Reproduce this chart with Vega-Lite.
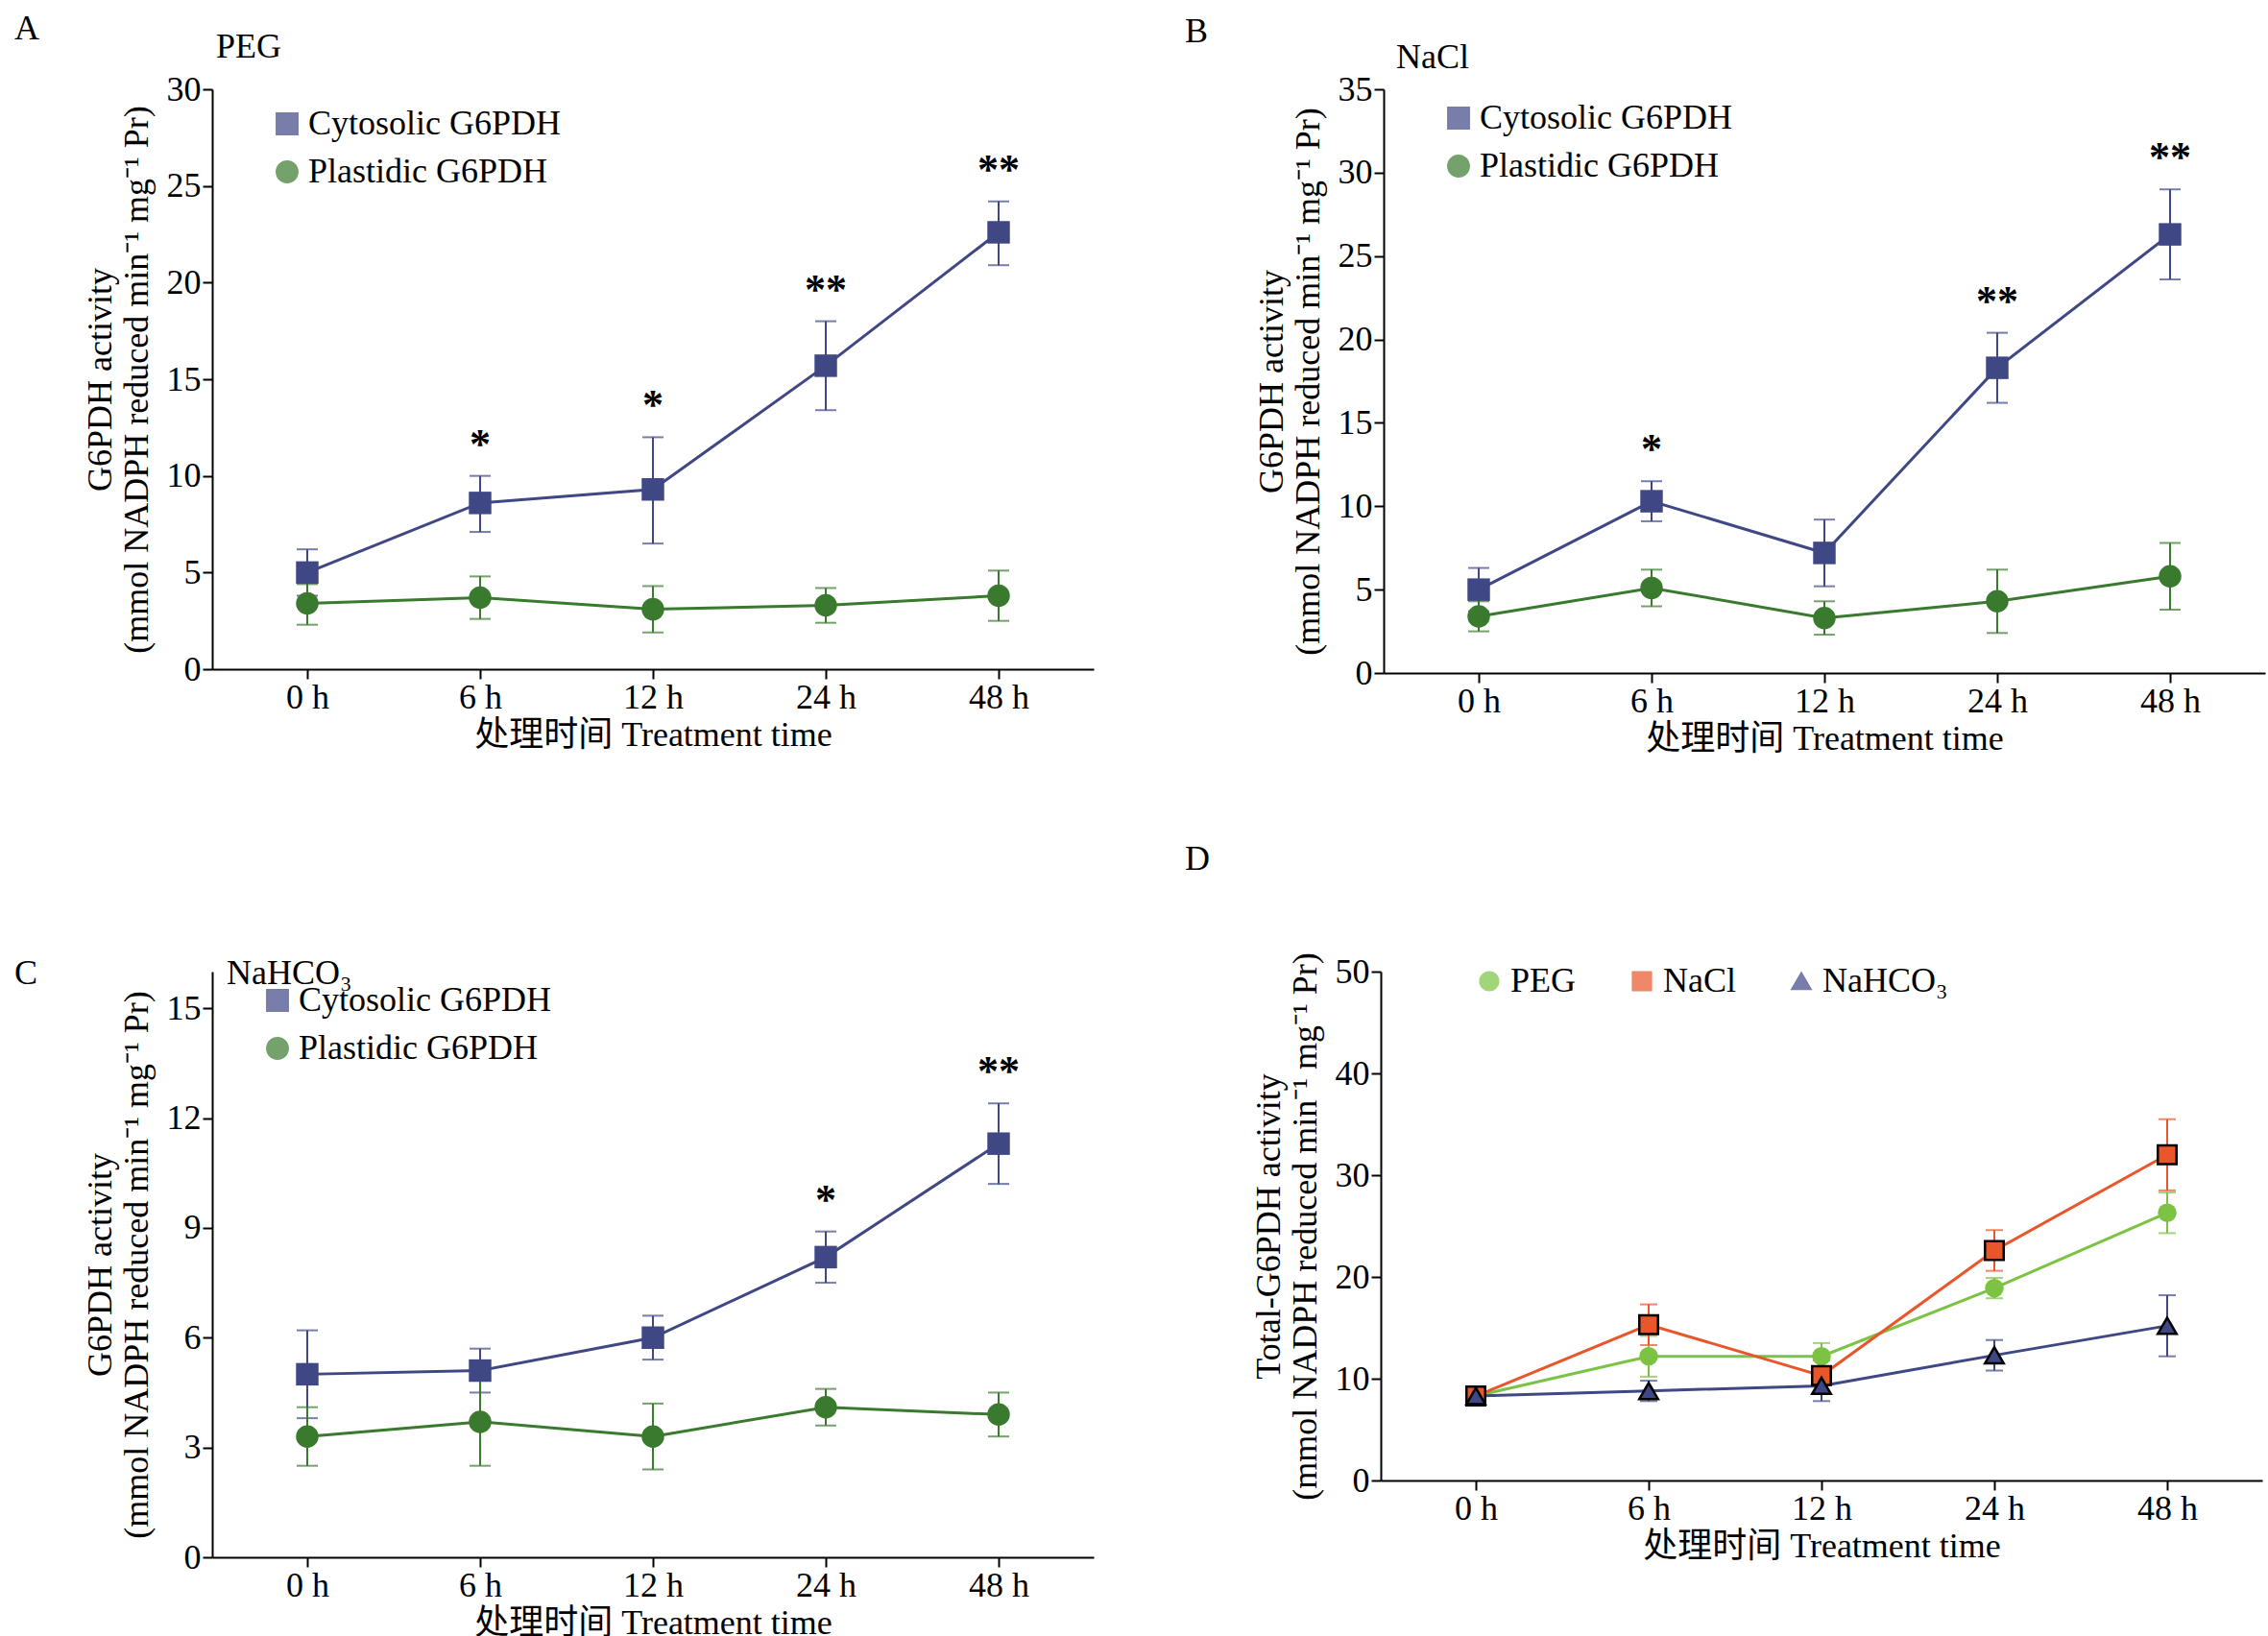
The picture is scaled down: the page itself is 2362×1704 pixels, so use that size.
{
"$schema":"https://vega.github.io/schema/vega-lite/v6.json",
"background":"white",
"padding":{"left":15,"top":12,"right":10,"bottom":5},
"config":{"font":"Liberation Serif","view":{"stroke":null},
 "axis":{"labelFont":"Liberation Serif, Noto Sans CJK SC","titleFont":"Liberation Serif, Noto Sans CJK SC","labelFontSize":36,"titleFontSize":36,"titleFontWeight":"normal","labelColor":"black","titleColor":"black","domainColor":"black","tickColor":"black","tickSize":10,"domainWidth":2,"tickWidth":2,"grid":false,"labelAngle":0},
 "legend":{"labelFont":"Liberation Serif","labelFontSize":36,"labelColor":"black","labelLimit":600}},
"datasets":{"d":[
{"panel":"A","series":"Cytosolic G6PDH","time":"0 h","mean":5.0,"lo":3.8,"hi":6.2,"star":""},
{"panel":"A","series":"Cytosolic G6PDH","time":"6 h","mean":8.6,"lo":7.1,"hi":10.0,"star":"*"},
{"panel":"A","series":"Cytosolic G6PDH","time":"12 h","mean":9.3,"lo":6.5,"hi":12.0,"star":"*"},
{"panel":"A","series":"Cytosolic G6PDH","time":"24 h","mean":15.7,"lo":13.4,"hi":18.0,"star":"**"},
{"panel":"A","series":"Cytosolic G6PDH","time":"48 h","mean":22.6,"lo":20.9,"hi":24.2,"star":"**"},
{"panel":"A","series":"Plastidic G6PDH","time":"0 h","mean":3.4,"lo":2.3,"hi":4.4,"star":""},
{"panel":"A","series":"Plastidic G6PDH","time":"6 h","mean":3.7,"lo":2.6,"hi":4.8,"star":""},
{"panel":"A","series":"Plastidic G6PDH","time":"12 h","mean":3.1,"lo":1.9,"hi":4.3,"star":""},
{"panel":"A","series":"Plastidic G6PDH","time":"24 h","mean":3.3,"lo":2.4,"hi":4.2,"star":""},
{"panel":"A","series":"Plastidic G6PDH","time":"48 h","mean":3.8,"lo":2.5,"hi":5.1,"star":""},
{"panel":"B","series":"Cytosolic G6PDH","time":"0 h","mean":5.0,"lo":3.7,"hi":6.3,"star":""},
{"panel":"B","series":"Cytosolic G6PDH","time":"6 h","mean":10.3,"lo":9.1,"hi":11.5,"star":"*"},
{"panel":"B","series":"Cytosolic G6PDH","time":"12 h","mean":7.2,"lo":5.2,"hi":9.2,"star":""},
{"panel":"B","series":"Cytosolic G6PDH","time":"24 h","mean":18.3,"lo":16.2,"hi":20.4,"star":"**"},
{"panel":"B","series":"Cytosolic G6PDH","time":"48 h","mean":26.3,"lo":23.6,"hi":29.0,"star":"**"},
{"panel":"B","series":"Plastidic G6PDH","time":"0 h","mean":3.4,"lo":2.5,"hi":4.3,"star":""},
{"panel":"B","series":"Plastidic G6PDH","time":"6 h","mean":5.1,"lo":4.0,"hi":6.2,"star":""},
{"panel":"B","series":"Plastidic G6PDH","time":"12 h","mean":3.3,"lo":2.3,"hi":4.3,"star":""},
{"panel":"B","series":"Plastidic G6PDH","time":"24 h","mean":4.3,"lo":2.4,"hi":6.2,"star":""},
{"panel":"B","series":"Plastidic G6PDH","time":"48 h","mean":5.8,"lo":3.8,"hi":7.8,"star":""},
{"panel":"C","series":"Cytosolic G6PDH","time":"0 h","mean":5.0,"lo":3.8,"hi":6.2,"star":""},
{"panel":"C","series":"Cytosolic G6PDH","time":"6 h","mean":5.1,"lo":4.5,"hi":5.7,"star":""},
{"panel":"C","series":"Cytosolic G6PDH","time":"12 h","mean":6.0,"lo":5.4,"hi":6.6,"star":""},
{"panel":"C","series":"Cytosolic G6PDH","time":"24 h","mean":8.2,"lo":7.5,"hi":8.9,"star":"*"},
{"panel":"C","series":"Cytosolic G6PDH","time":"48 h","mean":11.3,"lo":10.2,"hi":12.4,"star":"**"},
{"panel":"C","series":"Plastidic G6PDH","time":"0 h","mean":3.3,"lo":2.5,"hi":4.1,"star":""},
{"panel":"C","series":"Plastidic G6PDH","time":"6 h","mean":3.7,"lo":2.5,"hi":4.9,"star":""},
{"panel":"C","series":"Plastidic G6PDH","time":"12 h","mean":3.3,"lo":2.4,"hi":4.2,"star":""},
{"panel":"C","series":"Plastidic G6PDH","time":"24 h","mean":4.1,"lo":3.6,"hi":4.6,"star":""},
{"panel":"C","series":"Plastidic G6PDH","time":"48 h","mean":3.9,"lo":3.3,"hi":4.5,"star":""},
{"panel":"D","series":"PEG","time":"0 h","mean":8.3,"lo":7.8,"hi":8.8,"star":""},
{"panel":"D","series":"PEG","time":"6 h","mean":12.2,"lo":10.2,"hi":14.2,"star":""},
{"panel":"D","series":"PEG","time":"12 h","mean":12.2,"lo":10.9,"hi":13.5,"star":""},
{"panel":"D","series":"PEG","time":"24 h","mean":18.9,"lo":17.9,"hi":19.9,"star":""},
{"panel":"D","series":"PEG","time":"48 h","mean":26.3,"lo":24.3,"hi":28.3,"star":""},
{"panel":"D","series":"NaCl","time":"0 h","mean":8.3,"lo":7.8,"hi":8.8,"star":""},
{"panel":"D","series":"NaCl","time":"6 h","mean":15.3,"lo":13.3,"hi":17.3,"star":""},
{"panel":"D","series":"NaCl","time":"12 h","mean":10.3,"lo":8.8,"hi":11.8,"star":""},
{"panel":"D","series":"NaCl","time":"24 h","mean":22.6,"lo":20.6,"hi":24.6,"star":""},
{"panel":"D","series":"NaCl","time":"48 h","mean":32.0,"lo":28.5,"hi":35.5,"star":""},
{"panel":"D","series":"NaHCO₃","time":"0 h","mean":8.3,"lo":7.8,"hi":8.8,"star":""},
{"panel":"D","series":"NaHCO₃","time":"6 h","mean":8.8,"lo":7.8,"hi":9.8,"star":""},
{"panel":"D","series":"NaHCO₃","time":"12 h","mean":9.3,"lo":7.8,"hi":10.8,"star":""},
{"panel":"D","series":"NaHCO₃","time":"24 h","mean":12.3,"lo":10.8,"hi":13.8,"star":""},
{"panel":"D","series":"NaHCO₃","time":"48 h","mean":15.2,"lo":12.2,"hi":18.2,"star":""}
]},
"vconcat":[
{"hconcat":[
{"width":918,"height":604,
 "data":{"name":"d"},
 "encoding":{"x":{"field":"time","type":"ordinal","sort":["0 h","6 h","12 h","24 h","48 h"],"scale":{"type":"point","padding":0.55},"axis":{"title":"处理时间 Treatment time","titlePadding":4}}},
 "layer":[
  {"transform":[{"filter":"datum.panel=='A'"}],"mark":{"type":"errorbar","ticks":{"size":22,"thickness":2},"thickness":2},"encoding":{"y":{"field":"lo","type":"quantitative","title":["G6PDH activity","(mmol NADPH reduced min⁻¹ mg⁻¹ Pr)"],"scale":{"domain":[0,30]},"axis":{"values":[0,5,10,15,20,25,30],"titlePadding":12}},"y2":{"field":"hi"},"color":{"field":"series","title":null,"scale":{"domain":["Cytosolic G6PDH","Plastidic G6PDH"],"range":["#3F4785","#3A7A2E"]},"legend":{"orient":"none","legendX":60,"legendY":18,"symbolSize":500,"rowPadding":14}}}},
  {"transform":[{"filter":"datum.panel=='A'"}],"mark":{"type":"line","strokeWidth":3},"encoding":{"y":{"field":"mean","type":"quantitative","title":["G6PDH activity","(mmol NADPH reduced min⁻¹ mg⁻¹ Pr)"]},"color":{"field":"series"}}},
  {"transform":[{"filter":"datum.panel=='A'"}],"mark":{"type":"point","filled":true,"opacity":1,"size":550},"encoding":{"y":{"field":"mean","type":"quantitative","title":["G6PDH activity","(mmol NADPH reduced min⁻¹ mg⁻¹ Pr)"]},"color":{"field":"series"},"shape":{"field":"series","title":null,"scale":{"domain":["Cytosolic G6PDH","Plastidic G6PDH"],"range":["square","circle"]}}}},
  {"transform":[{"filter":"datum.panel=='A'"}],"mark":{"type":"text","fontSize":44,"dy":-10,"baseline":"bottom","font":"Liberation Serif","fontWeight":"bold"},"encoding":{"y":{"field":"hi","type":"quantitative","title":["G6PDH activity","(mmol NADPH reduced min⁻¹ mg⁻¹ Pr)"]},"text":{"field":"star"}}},
  {"data":{"values":[{"l":"A"}]},"mark":{"type":"text","fontSize":36,"dx":-305,"dy":-63,"align":"left","baseline":"middle","font":"Liberation Serif"},"encoding":{"x":{"datum":"0 h"},"y":{"datum":30},"text":{"field":"l"}}},
  {"data":{"values":[{"l":"PEG"}]},"mark":{"type":"text","fontSize":36,"dx":-95,"dy":-44,"align":"left","baseline":"middle","font":"Liberation Serif"},"encoding":{"x":{"datum":"0 h"},"y":{"datum":30},"text":{"field":"l"}}}
 ]},
{"width":918,"height":608,
 "data":{"name":"d"},
 "encoding":{"x":{"field":"time","type":"ordinal","sort":["0 h","6 h","12 h","24 h","48 h"],"scale":{"type":"point","padding":0.55},"axis":{"title":"处理时间 Treatment time","titlePadding":4}}},
 "layer":[
  {"transform":[{"filter":"datum.panel=='B'"}],"mark":{"type":"errorbar","ticks":{"size":22,"thickness":2},"thickness":2},"encoding":{"y":{"field":"lo","type":"quantitative","title":["G6PDH activity","(mmol NADPH reduced min⁻¹ mg⁻¹ Pr)"],"scale":{"domain":[0,35]},"axis":{"values":[0,5,10,15,20,25,30,35],"titlePadding":12}},"y2":{"field":"hi"},"color":{"field":"series","title":null,"scale":{"domain":["Cytosolic G6PDH","Plastidic G6PDH"],"range":["#3F4785","#3A7A2E"]},"legend":{"orient":"none","legendX":60,"legendY":12,"symbolSize":500,"rowPadding":14}}}},
  {"transform":[{"filter":"datum.panel=='B'"}],"mark":{"type":"line","strokeWidth":3},"encoding":{"y":{"field":"mean","type":"quantitative","title":["G6PDH activity","(mmol NADPH reduced min⁻¹ mg⁻¹ Pr)"]},"color":{"field":"series"}}},
  {"transform":[{"filter":"datum.panel=='B'"}],"mark":{"type":"point","filled":true,"opacity":1,"size":550},"encoding":{"y":{"field":"mean","type":"quantitative","title":["G6PDH activity","(mmol NADPH reduced min⁻¹ mg⁻¹ Pr)"]},"color":{"field":"series"},"shape":{"field":"series","title":null,"scale":{"domain":["Cytosolic G6PDH","Plastidic G6PDH"],"range":["square","circle"]}}}},
  {"transform":[{"filter":"datum.panel=='B'"}],"mark":{"type":"text","fontSize":44,"dy":-10,"baseline":"bottom","font":"Liberation Serif","fontWeight":"bold"},"encoding":{"y":{"field":"hi","type":"quantitative","title":["G6PDH activity","(mmol NADPH reduced min⁻¹ mg⁻¹ Pr)"]},"text":{"field":"star"}}},
  {"data":{"values":[{"l":"B"}]},"mark":{"type":"text","fontSize":36,"dx":-306,"dy":-60,"align":"left","baseline":"middle","font":"Liberation Serif"},"encoding":{"x":{"datum":"0 h"},"y":{"datum":35},"text":{"field":"l"}}},
  {"data":{"values":[{"l":"NaCl"}]},"mark":{"type":"text","fontSize":36,"dx":-86,"dy":-33,"align":"left","baseline":"middle","font":"Liberation Serif"},"encoding":{"x":{"datum":"0 h"},"y":{"datum":35},"text":{"field":"l"}}}
 ]}
],"spacing":95,"resolve":{"scale":{"color":"independent","shape":"independent","y":"independent"}}},
{"hconcat":[
{"width":918,"height":610,
 "data":{"name":"d"},
 "encoding":{"x":{"field":"time","type":"ordinal","sort":["0 h","6 h","12 h","24 h","48 h"],"scale":{"type":"point","padding":0.55},"axis":{"title":"处理时间 Treatment time","titlePadding":4}}},
 "layer":[
  {"transform":[{"filter":"datum.panel=='C'"}],"mark":{"type":"errorbar","ticks":{"size":22,"thickness":2},"thickness":2},"encoding":{"y":{"field":"lo","type":"quantitative","title":["G6PDH activity","(mmol NADPH reduced min⁻¹ mg⁻¹ Pr)"],"scale":{"domain":[0,15]},"axis":{"values":[0,3,6,9,12,15],"titlePadding":12}},"y2":{"field":"hi"},"color":{"field":"series","title":null,"scale":{"domain":["Cytosolic G6PDH","Plastidic G6PDH"],"range":["#3F4785","#3A7A2E"]},"legend":{"orient":"none","legendX":50,"legendY":12,"symbolSize":500,"rowPadding":14}}}},
  {"transform":[{"filter":"datum.panel=='C'"}],"mark":{"type":"line","strokeWidth":3},"encoding":{"y":{"field":"mean","type":"quantitative","title":["G6PDH activity","(mmol NADPH reduced min⁻¹ mg⁻¹ Pr)"]},"color":{"field":"series"}}},
  {"transform":[{"filter":"datum.panel=='C'"}],"mark":{"type":"point","filled":true,"opacity":1,"size":550},"encoding":{"y":{"field":"mean","type":"quantitative","title":["G6PDH activity","(mmol NADPH reduced min⁻¹ mg⁻¹ Pr)"]},"color":{"field":"series"},"shape":{"field":"series","title":null,"scale":{"domain":["Cytosolic G6PDH","Plastidic G6PDH"],"range":["square","circle"]}}}},
  {"transform":[{"filter":"datum.panel=='C'"}],"mark":{"type":"text","fontSize":44,"dy":-10,"baseline":"bottom","font":"Liberation Serif","fontWeight":"bold"},"encoding":{"y":{"field":"hi","type":"quantitative","title":["G6PDH activity","(mmol NADPH reduced min⁻¹ mg⁻¹ Pr)"]},"text":{"field":"star"}}},
  {"data":{"values":[{"l":"C"}]},"mark":{"type":"text","fontSize":36,"dx":-305,"dy":-36,"align":"left","baseline":"middle","font":"Liberation Serif"},"encoding":{"x":{"datum":"0 h"},"y":{"datum":15},"text":{"field":"l"}}},
  {"data":{"values":[{"l":"NaHCO₃"}]},"mark":{"type":"text","fontSize":36,"dx":-84,"dy":-36,"align":"left","baseline":"middle","font":"Liberation Serif"},"encoding":{"x":{"datum":"0 h"},"y":{"datum":15},"text":{"field":"l"}}}
 ]},
{"width":918,"height":530,
 "data":{"name":"d"},
 "encoding":{"x":{"field":"time","type":"ordinal","sort":["0 h","6 h","12 h","24 h","48 h"],"scale":{"type":"point","padding":0.55},"axis":{"title":"处理时间 Treatment time","titlePadding":4}}},
 "layer":[
  {"transform":[{"filter":"datum.panel=='D'"}],"mark":{"type":"errorbar","ticks":{"size":18,"thickness":2},"thickness":2},"encoding":{"y":{"field":"lo","type":"quantitative","title":["Total-G6PDH activity","(mmol NADPH reduced min⁻¹ mg⁻¹ Pr)"],"scale":{"domain":[0,50]},"axis":{"values":[0,10,20,30,40,50],"titlePadding":12}},"y2":{"field":"hi"},"color":{"field":"series","title":null,"scale":{"domain":["PEG","NaCl","NaHCO₃"],"range":["#7CC243","#E8562A","#3F4785"]},"legend":{"orient":"none","direction":"horizontal","legendX":95,"legendY":-8,"symbolSize":350,"columnPadding":50,"symbolStrokeColor":"black","symbolStrokeWidth":2.5}}}},
  {"transform":[{"filter":"datum.panel=='D'"}],"mark":{"type":"line","strokeWidth":3},"encoding":{"y":{"field":"mean","type":"quantitative","title":["Total-G6PDH activity","(mmol NADPH reduced min⁻¹ mg⁻¹ Pr)"]},"color":{"field":"series"}}},
  {"transform":[{"filter":"datum.panel=='D'"}],"mark":{"type":"point","filled":true,"opacity":1,"size":380,"stroke":"black","strokeWidth":2.5},"encoding":{"y":{"field":"mean","type":"quantitative","title":["Total-G6PDH activity","(mmol NADPH reduced min⁻¹ mg⁻¹ Pr)"]},"color":{"field":"series"},"shape":{"field":"series","title":null,"scale":{"domain":["PEG","NaCl","NaHCO₃"],"range":["circle","square","triangle-up"]}},"strokeWidth":{"condition":{"test":"datum.series=='PEG'","value":0},"value":2.5}}},
  {"data":{"values":[{"l":"D"}]},"mark":{"type":"text","fontSize":36,"dx":-303,"dy":-117,"align":"left","baseline":"middle","font":"Liberation Serif"},"encoding":{"x":{"datum":"0 h"},"y":{"datum":50},"text":{"field":"l"}}}
 ]}
],"spacing":95,"resolve":{"scale":{"color":"independent","shape":"independent","y":"independent"}}}
],"spacing":90
}
